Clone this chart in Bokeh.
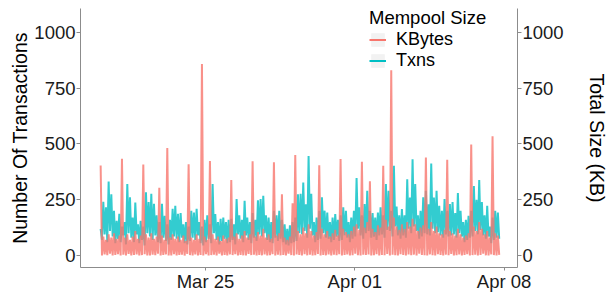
import numpy as np
import pandas as pd
from bokeh.plotting import figure
from bokeh.models import (Range1d, LinearAxis, FixedTicker, DatetimeTickFormatter,
                          Legend, LegendItem)
from bokeh.embed import file_html
from bokeh.resources import INLINE

# ---------------- data (3-hour samples) ----------------
start_time = "2017-03-20 02:00"
step_hours = 3

# KBytes (total mempool size): per-sample peak and trough
kb_hi = [403, 85, 70, 95, 80, 100, 75, 90, 434, 80,
         95, 70, 85, 110, 75, 90, 408, 95, 80, 100,
         75, 85, 304, 90, 70, 482, 80, 95, 75, 85,
         70, 90, 65, 409, 80, 70, 95, 75, 858, 85,
         70, 424, 95, 75, 85, 65, 90, 75, 80, 338,
         85, 100, 75, 90, 110, 80, 95, 423, 85, 105,
         90, 120, 80, 95, 75, 418, 90, 100, 274, 80,
         70, 85, 234, 450, 110, 95, 125, 100, 140, 110,
         90, 105, 405, 120, 95, 110, 85, 100, 115, 90,
         433, 120, 105, 95, 110, 130, 140, 115, 420, 125,
         150, 333, 120, 105, 135, 125, 402, 160, 130, 830,
         170, 130, 115, 140, 120, 150, 130, 165, 140, 110,
         125, 135, 439, 120, 150, 110, 130, 100, 95, 115,
         429, 110, 100, 90, 120, 95, 80, 90, 100, 497,
         130, 110, 150, 120, 95, 110, 80, 534, 100, 90]
kb_lo = [0, 5, 2, 8, 0, 3, 6, 0, 4, 1,
         7, 0, 3, 5, 0, 2, 6, 1, 0, 4,
         2, 8, 0, 3, 5, 0, 1, 6, 0, 3,
         4, 0, 7, 2, 0, 5, 1, 3, 0, 6,
         0, 2, 4, 0, 8, 1, 3, 0, 5, 2,
         6, 0, 3, 1, 0, 7, 2, 4, 0, 3,
         1, 5, 0, 2, 6, 0, 4, 1, 3, 0,
         8, 2, 0, 5, 3, 0, 6, 1, 4, 0,
         2, 7, 0, 3, 1, 5, 0, 4, 2, 6,
         0, 3, 5, 0, 2, 8, 1, 0, 4, 3,
         5, 0, 2, 6, 0, 3, 1, 7, 0, 4,
         2, 0, 6, 3, 0, 5, 1, 4, 0, 8,
         3, 1, 0, 5, 2, 0, 6, 3, 0, 4,
         1, 7, 0, 2, 5, 0, 3, 6, 0, 2,
         4, 0, 3, 8, 1, 0, 5, 2, 0, 3]

# Txns (number of transactions): per-sample peak and trough
tx_hi = [120, 241, 216, 332, 275, 200, 156, 187, 130, 150,
         320, 261, 170, 238, 140, 156, 130, 283, 240, 277,
         232, 180, 150, 232, 178, 140, 160, 210, 223, 187,
         190, 140, 150, 130, 201, 193, 210, 150, 130, 160,
         180, 140, 320, 186, 150, 165, 170, 150, 160, 165,
         140, 253, 180, 160, 245, 170, 150, 190, 160, 248,
         253, 268, 180, 170, 150, 201, 180, 201, 160, 140,
         120, 135, 150, 170, 275, 277, 327, 230, 446, 277,
         150, 170, 200, 261, 201, 193, 150, 170, 186, 160,
         180, 216, 201, 150, 170, 200, 347, 216, 180, 231,
         290, 200, 190, 170, 193, 216, 180, 320, 290, 200,
         402, 220, 180, 208, 180, 342, 260, 431, 320, 180,
         200, 261, 290, 230, 412, 260, 290, 223, 200, 253,
         200, 231, 240, 190, 280, 200, 150, 160, 178, 200,
         312, 250, 338, 240, 180, 223, 130, 170, 201, 193]
tx_lo = [70, 95, 60, 110, 85, 55, 75, 60, 90, 50,
         100, 80, 60, 95, 55, 70, 45, 100, 85, 70,
         90, 60, 55, 80, 65, 50, 70, 85, 75, 60,
         80, 55, 50, 65, 80, 70, 90, 55, 45, 60,
         75, 55, 100, 70, 50, 65, 75, 55, 60, 70,
         50, 95, 75, 60, 90, 70, 55, 80, 65, 95,
         85, 100, 70, 60, 55, 80, 65, 75, 60, 50,
         45, 55, 60, 65, 100, 95, 110, 80, 120, 90,
         60, 70, 75, 100, 80, 75, 60, 70, 85, 65,
         70, 90, 80, 60, 75, 85, 120, 90, 75, 100,
         110, 80, 85, 70, 90, 95, 80, 115, 110, 85,
         130, 90, 75, 90, 80, 120, 100, 130, 110, 75,
         85, 100, 95, 90, 120, 100, 105, 90, 80, 95,
         85, 90, 95, 80, 100, 85, 60, 70, 80, 85,
         110, 95, 115, 90, 75, 85, 55, 70, 80, 75]

x_tick_dates = ["2017-03-25", "2017-04-01", "2017-04-08"]
y_ticks = [0, 250, 500, 750, 1000]
x_limits = ["2017-03-19 03:20", "2017-04-08 15:05"]
y_limits = [-53.6, 1107]

series_names = ["KBytes", "Txns"]
series_colors = ["#F8766D", "#00BFC4"]
legend_title = "Mempool Size"

# ---------------- build ----------------
times = pd.date_range(start_time, periods=len(kb_hi), freq=f"{step_hours}h")
half = pd.Timedelta(hours=step_hours / 2)


def zigzag(hi, lo):
    xs, ys = [], []
    for t, h, l in zip(times, hi, lo):
        xs += [t, t + half]
        ys += [h, l]
    return np.array(xs, dtype="datetime64[ns]"), ys


FONT = "Liberation Sans"
AXIS_GRAY = "#8C8C8C"

p = figure(width=611, height=294, x_axis_type="datetime",
           x_range=Range1d(pd.Timestamp(x_limits[0]), pd.Timestamp(x_limits[1])),
           y_range=Range1d(*y_limits),
           output_backend="svg", toolbar_location=None,
           min_border_left=80, min_border_right=94,
           min_border_top=8, min_border_bottom=27)
p.extra_y_ranges = {"kb": Range1d(*y_limits)}
p.outline_line_color = None
p.grid.visible = False
p.background_fill_color = "white"

tx_x, tx_y = zigzag(tx_hi, tx_lo)
kb_x, kb_y = zigzag(kb_hi, kb_lo)
p.line(tx_x, tx_y, line_color=series_colors[1], line_width=2, line_alpha=0.8)
p.line(kb_x, kb_y, line_color=series_colors[0], line_width=2, line_alpha=0.8,
       y_range_name="kb")


def style_axis(ax):
    ax.axis_line_color = AXIS_GRAY
    ax.major_tick_line_color = AXIS_GRAY
    ax.major_tick_out = 4
    ax.major_tick_in = 0
    ax.minor_tick_line_color = None
    ax.major_label_text_font = FONT
    ax.major_label_text_font_size = "18.5px"
    ax.major_label_text_color = "#1A1A1A"
    ax.axis_label_text_font = FONT
    ax.axis_label_text_font_size = "19.5px"
    ax.axis_label_text_font_style = "normal"
    ax.axis_label_text_color = "black"


# x axis
xa = p.xaxis[0]
style_axis(xa)
xa.ticker = FixedTicker(ticks=[pd.Timestamp(d).value // 10**6 for d in x_tick_dates])
fmt = "%b %d"
xa.formatter = DatetimeTickFormatter(hours=fmt, days=fmt, months=fmt, years=fmt)
xa.major_label_standoff = 0
xa.major_tick_out = 3

# left axis
ya = p.yaxis[0]
style_axis(ya)
ya.ticker = FixedTicker(ticks=y_ticks)
ya.major_label_standoff = 1
ya.axis_label = "Number Of Transactions"
ya.axis_label_standoff = 0

# right axis
ra = LinearAxis(y_range_name="kb", axis_label="Total Size (KB)")
style_axis(ra)
ra.ticker = FixedTicker(ticks=y_ticks)
ra.major_label_standoff = 1
ra.axis_label_standoff = 19
p.add_layout(ra, "right")

# legend (proxies: grey key background + thicker key line)
nan = [np.nan]
items = []
for name, col in zip(series_names, series_colors):
    bg = p.quad(left=nan, right=nan, top=nan, bottom=nan,
                fill_color="#F2F2F2", line_color=None)
    ln = p.line(x=nan, y=nan, line_color=col, line_width=2)
    items.append(LegendItem(label=name, renderers=[bg, ln]))

legend = Legend(items=items, title=legend_title, location=(289, 196))
legend.title_text_font = FONT
legend.title_text_font_size = "18.5px"
legend.title_text_font_style = "normal"
legend.title_text_color = "black"
legend.title_standoff = 0
legend.label_text_font = FONT
legend.label_text_font_size = "18px"
legend.label_text_color = "black"
legend.glyph_width = 17
legend.glyph_height = 17
legend.label_height = 17
legend.label_standoff = 10
legend.spacing = 0
legend.padding = 0
legend.margin = 0
legend.border_line_color = None
legend.background_fill_alpha = 0
p.add_layout(legend)

open("out.html", "w").write(file_html(p, INLINE))
